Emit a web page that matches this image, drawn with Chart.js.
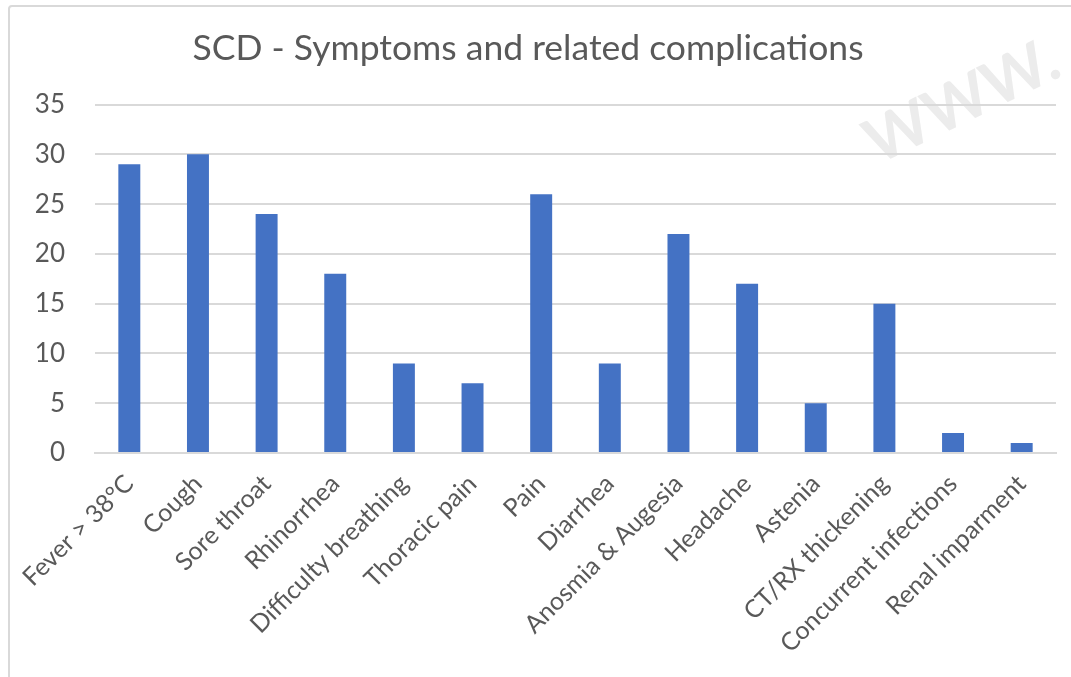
<!DOCTYPE html>
<html>
<head>
<meta charset="utf-8">
<script src="https://cdn.jsdelivr.net/npm/chart.js@4/dist/chart.umd.min.js"></script>
<style>
  html, body { margin: 0; padding: 0; background: #fff; }
  #wrap { position: relative; width: 1071px; height: 677px; overflow: hidden; }
  #frame { position: absolute; left: 8px; top: 5px; width: 1080px; height: 700px;
           border: 2px solid #d9d9d9; border-radius: 4px; box-sizing: border-box; }
  canvas { position: absolute; left: 0; top: 0; }
</style>
</head>
<body>
<div id="wrap">
  <div id="frame"></div>
  <canvas id="chart" width="1071" height="677"></canvas>
</div>
<script>
// categories and values
var symptoms = ["Fever > 38°C", "Cough", "Sore throat", "Rhinorrhea", "Difficulty breathing",
  "Thoracic pain", "Pain", "Diarrhea", "Anosmia & Augesia", "Headache", "Astenia",
  "CT/RX thickening", "Concurrent infections", "Renal imparment"];
var counts = [29, 30, 24, 18, 9, 7, 26, 9, 22, 17, 5, 15, 2, 1];
var yTicks = [0, 5, 10, 15, 20, 25, 30, 35];

var fontFam = "Lato, 'Open Sans', sans-serif";
var grey = "#595959";

// faint watermark in the upper right corner
var watermark = {
  id: "watermark",
  beforeDraw: function (chart) {
    var c = chart.ctx;
    c.save();
    c.translate(962, 102);
    c.rotate(-0.45);
    c.font = "bold 62px " + fontFam;
    c.fillStyle = "#ececec";
    c.textAlign = "center";
    c.textBaseline = "middle";
    c.fillText("WWW.", 0, 0);
    c.restore();
  }
};

new Chart(document.getElementById("chart"), {
  type: "bar",
  data: {
    labels: symptoms,
    datasets: [{
      data: counts,
      backgroundColor: "#4472c4",
      barPercentage: 0.32,
      categoryPercentage: 1
    }]
  },
  options: {
    responsive: false,
    animation: false,
    layout: { padding: { left: 0, right: 15, top: 8, bottom: 0 } },
    plugins: {
      legend: { display: false },
      tooltip: { enabled: false },
      title: {
        display: true,
        text: "SCD - Symptoms and related complications",
        color: grey,
        font: { family: fontFam, size: 35.5, weight: "normal" },
        padding: { top: 19, bottom: 35 }
      }
    },
    scales: {
      x: {
        grid: { display: false, drawTicks: false },
        border: { color: "#d9d9d9", width: 2 },
        ticks: {
          color: grey,
          font: { family: fontFam, size: 25 },
          maxRotation: 45,
          minRotation: 45,
          autoSkip: false,
          padding: 16
        },
        afterFit: function (axis) {
          axis.paddingLeft = 0;
          axis.paddingRight = 0;
          axis.height = 224;
        }
      },
      y: {
        min: 0,
        max: 35,
        afterBuildTicks: function (axis) {
          axis.ticks = yTicks.map(function (v) { return { value: v }; });
        },
        grid: { color: "#d9d9d9", lineWidth: 2, drawTicks: false },
        border: { display: false },
        ticks: {
          color: grey,
          font: { family: fontFam, size: 26 },
          padding: 30
        },
        afterFit: function (axis) {
          axis.width = 95;
        }
      }
    }
  },
  plugins: [watermark]
});
</script>
</body>
</html>
